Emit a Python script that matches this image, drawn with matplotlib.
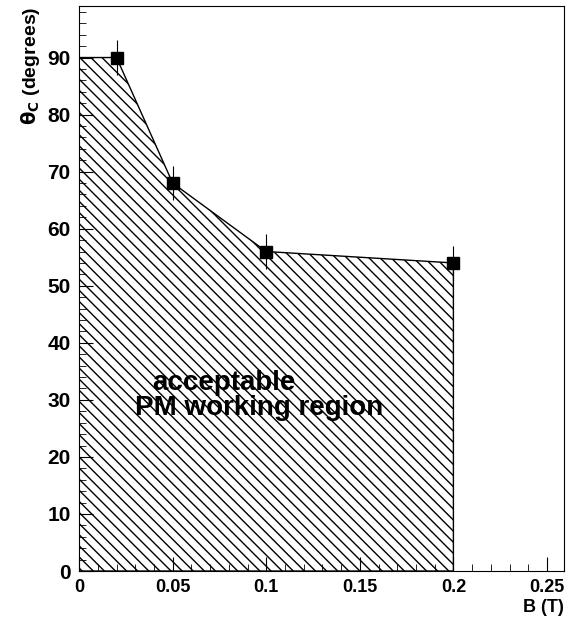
import numpy as np
import matplotlib
matplotlib.use("Agg")
import matplotlib.pyplot as plt
from matplotlib.ticker import MultipleLocator

plt.rcParams['font.family'] = ['Liberation Sans', 'DejaVu Sans']
plt.rcParams['hatch.linewidth'] = 1.0

# data
b_field = [0.02, 0.05, 0.1, 0.2]
theta_c = [90, 68, 56, 54]
theta_err = [3, 3, 3, 3]

fig = plt.figure(figsize=(5.73, 6.18), dpi=100)
ax = fig.add_axes([0.138, 0.076, 0.846, 0.914])

# acceptable region boundary
bx = [0.0] + b_field + [b_field[-1], 0.0]
by = [theta_c[0]] + theta_c + [0.0, 0.0]
ax.fill(bx, by, facecolor='white', edgecolor='black', hatch='\\\\\\', linewidth=1.0)

ax.errorbar(b_field, theta_c, yerr=theta_err, fmt='s', color='black',
            markersize=8, elinewidth=0.8, capsize=0)

ax.text(0.039, 33.0, "acceptable", fontsize=20, fontweight='bold', va='center')
ax.text(0.030, 28.6, "PM working region", fontsize=20, fontweight='bold', va='center')

ax.set_xlim(0, 0.259)
ax.set_ylim(0, 99)
ax.xaxis.set_major_locator(MultipleLocator(0.05))
ax.xaxis.set_minor_locator(MultipleLocator(0.01))
ax.yaxis.set_major_locator(MultipleLocator(10))
ax.yaxis.set_minor_locator(MultipleLocator(2))
ax.set_xticks([0, 0.05, 0.1, 0.15, 0.2, 0.25])
ax.set_xticklabels(['0', '0.05', '0.1', '0.15', '0.2', '0.25'])
ax.tick_params(which='both', direction='in', top=False, right=False)
ax.tick_params(which='major', length=10, pad=6)
ax.tick_params(axis='x', which='major', labelsize=13)
ax.tick_params(axis='y', which='major', labelsize=15)
ax.tick_params(which='minor', length=5)
for lab in ax.get_xticklabels() + ax.get_yticklabels():
    lab.set_fontweight('bold')

ax.set_xlabel("B (T)", fontsize=13, fontweight='bold', loc='right', labelpad=2)
ax.set_ylabel(r"$\mathbf{\theta_C}$ (degrees)", fontsize=14, fontweight='bold',
              loc='top', labelpad=4)

fig.savefig("out.png", dpi=100)
